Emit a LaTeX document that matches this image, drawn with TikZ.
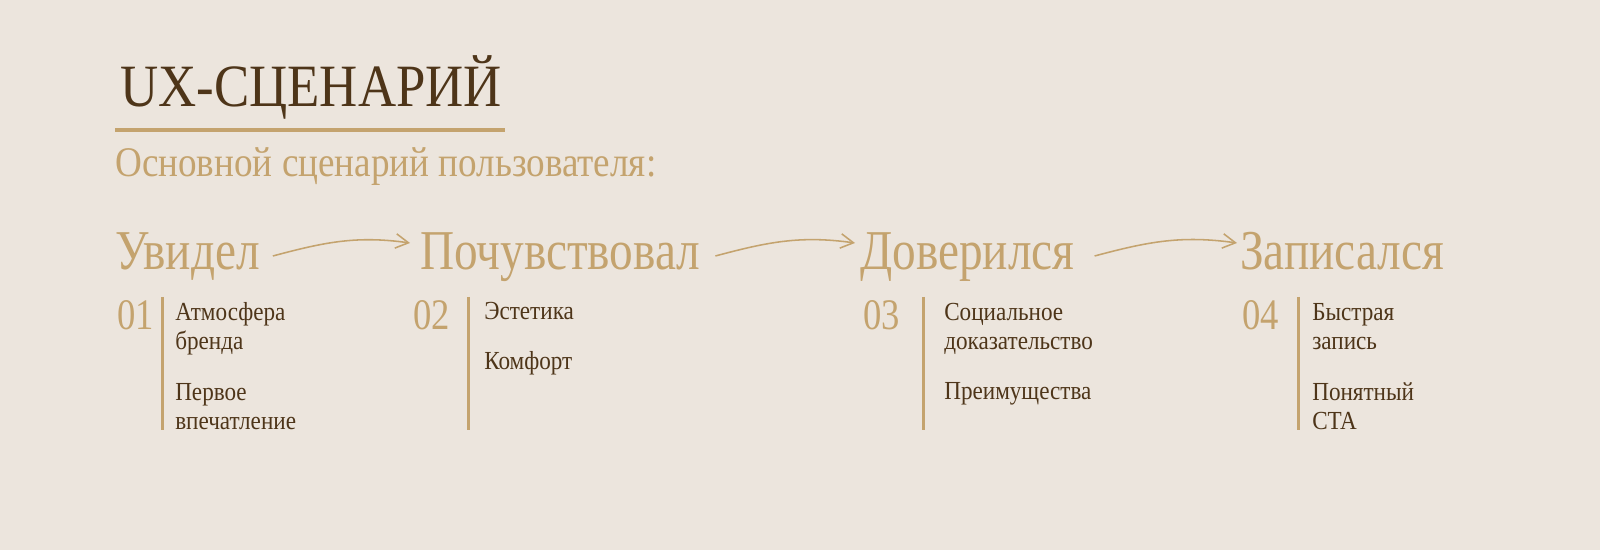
\documentclass[tikz,border=0pt]{standalone}
\usepackage{fontspec}
\setmainfont{Liberation Serif}
\newfontfamily\displayfont[FakeStretch=0.88]{Liberation Serif}
\newfontfamily\stagefont[FakeStretch=0.84]{Liberation Serif}
\newfontfamily\itemfont[FakeStretch=0.89]{Liberation Serif}
\usetikzlibrary{arrows.meta,positioning,calc}
\definecolor{paper}{HTML}{ECE5DD}
\definecolor{gold}{HTML}{C4A36E}
\definecolor{cocoa}{HTML}{4E3519}

\begin{document}
\begin{tikzpicture}[x=0.025cm,y=0.025cm,
    every node/.style={anchor=base west,inner sep=0pt},
    headline/.style={text=cocoa,font=\displayfont\fontsize{42.7}{44}\selectfont},
    subline/.style={text=gold,font=\displayfont\fontsize{30}{32}\selectfont},
    stage/.style={text=gold,font=\stagefont\fontsize{40}{42}\selectfont},
    num/.style={text=gold,font=\stagefont\fontsize{31}{33}\selectfont},
    item/.style={text=cocoa,align=left,font=\itemfont\fontsize{18.5}{21.3}\selectfont},
    bar/.style={draw=gold,line width=0.075cm},
    flow/.style={draw=gold,line width=1.1pt,-{Straight Barb[length=0.32cm,width=0.36cm,line width=1.1pt]}}]
    \fill[paper] (0,0) rectangle (1600,550);
    \useasboundingbox (0,0) rectangle (1600,550);
			% heading
    \node[headline] (title) at (120,443) {UX-СЦЕНАРИЙ};
    \draw[draw=gold,line width=0.1cm] (115,420) -- (505,420);
    \node[subline] (sub) at (115,373) {Основной сценарий пользователя:};
			% stages
    \node[stage] (see) at (115,280) {Увидел};
    \node[stage] (felt) at (420,280) {Почувствовал};
    \node[stage] (trust) at (860,280) {Доверился};
    \node[stage] (book) at (1240,280) {Записался};
    \draw[flow] ($(see.base east)+(13,14)$) to[out=15,in=172] ($(felt.base west)+(-10,27)$);
    \draw[flow] ($(felt.base east)+(15,14)$) to[out=15,in=172] ($(trust.base west)+(-5,27)$);
    \draw[flow] ($(trust.base east)+(20,14)$) to[out=15,in=172] ($(book.base west)+(-3,27)$);
			% steps
    \node[num] (n1) at (117,220) {01};
    \node[num] (n2) at (413,220) {02};
    \node[num] (n3) at (863,220) {03};
    \node[num] (n4) at (1242,220) {04};
    \draw[bar] (162,253) -- (162,120);
    \draw[bar] (468,253) -- (468,120);
    \draw[bar] (923,253) -- (923,120);
    \draw[bar] (1298,253) -- (1298,120);
			% items (base = last line)
    \node[item] (i11) at (175,200) {Атмосфера\\бренда};
    \node[item] (i12) at (175,120) {Первое\\впечатление};
    \node[item] (i21) at (484,230) {Эстетика};
    \node[item] (i22) at (484,180) {Комфорт};
    \node[item] (i31) at (944,200) {Социальное\\доказательство};
    \node[item] (i32) at (944,150) {Преимущества};
    \node[item] (i41) at (1312,200) {Быстрая\\запись};
    \node[item] (i42) at (1312,120) {Понятный\\CTA};
\end{tikzpicture}
\end{document}
